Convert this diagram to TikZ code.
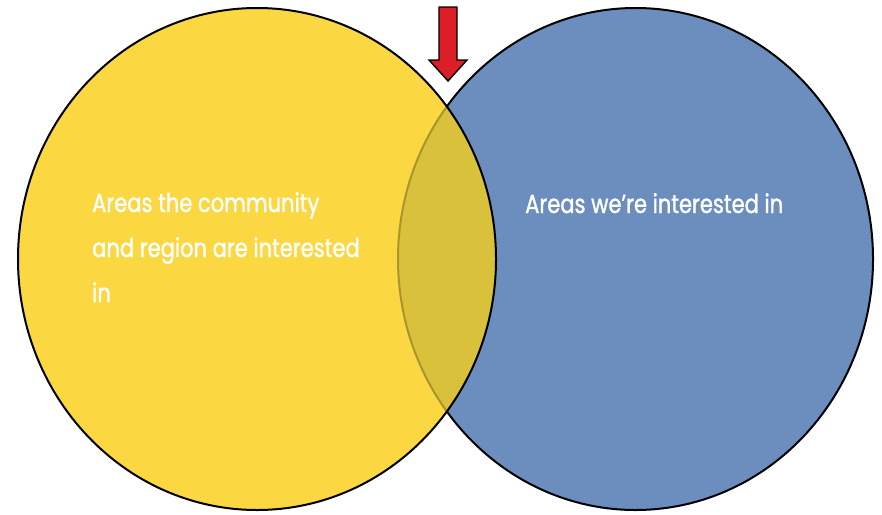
\documentclass[tikz,border=0pt]{standalone}
\usepackage{fontspec}
\setmainfont{Poppins}[FakeStretch=0.81, FakeBold=1.2]
\definecolor{vyellow}{HTML}{FBD842}
\definecolor{vblue}{HTML}{6B8EBE}
\definecolor{volive}{HTML}{D9C13B}
\definecolor{voliveline}{HTML}{A8952C}
\definecolor{vred}{HTML}{DC1F26}
\tikzset{
  outline/.style={draw=black, line width=2pt},
  label/.style={text=white, anchor=base west, inner sep=0pt, font=\fontsize{26}{30}\selectfont},
}
\begin{document}
\begin{tikzpicture}[x=1pt,y=-1pt]
\useasboundingbox (0,0) rectangle (882,514);
% blue circle
\fill[vblue] (635.5,259) ellipse [x radius=237.5, y radius=251];
\draw[outline] (635.5,259) ellipse [x radius=237.5, y radius=251];
% yellow circle
\fill[vyellow] (257,259) ellipse [x radius=239, y radius=251];
% overlap
\begin{scope}
  \clip (257,259) ellipse [x radius=239, y radius=251];
  \fill[volive] (635.5,259) ellipse [x radius=237.5, y radius=251];
  \draw[draw=voliveline, line width=2pt] (635.5,259) ellipse [x radius=237.5, y radius=251];
\end{scope}
\draw[outline] (257,259) ellipse [x radius=239, y radius=251];
% arrow
\draw[fill=vred, draw=black, line width=1.4pt, line join=miter]
  (439,7) -- (457,7) -- (457,60) -- (467,60) -- (448,81) -- (429,60) -- (439,60) -- cycle;
% texts
\node[label] (l1) at (92,212) {Areas the community};
\node[label] (l2) at (92,257) {and region are interested};
\node[label] (l3) at (92,302) {in};
\node[label] (r1) at (525,213) {Areas we’re interested in};
\end{tikzpicture}
\end{document}
